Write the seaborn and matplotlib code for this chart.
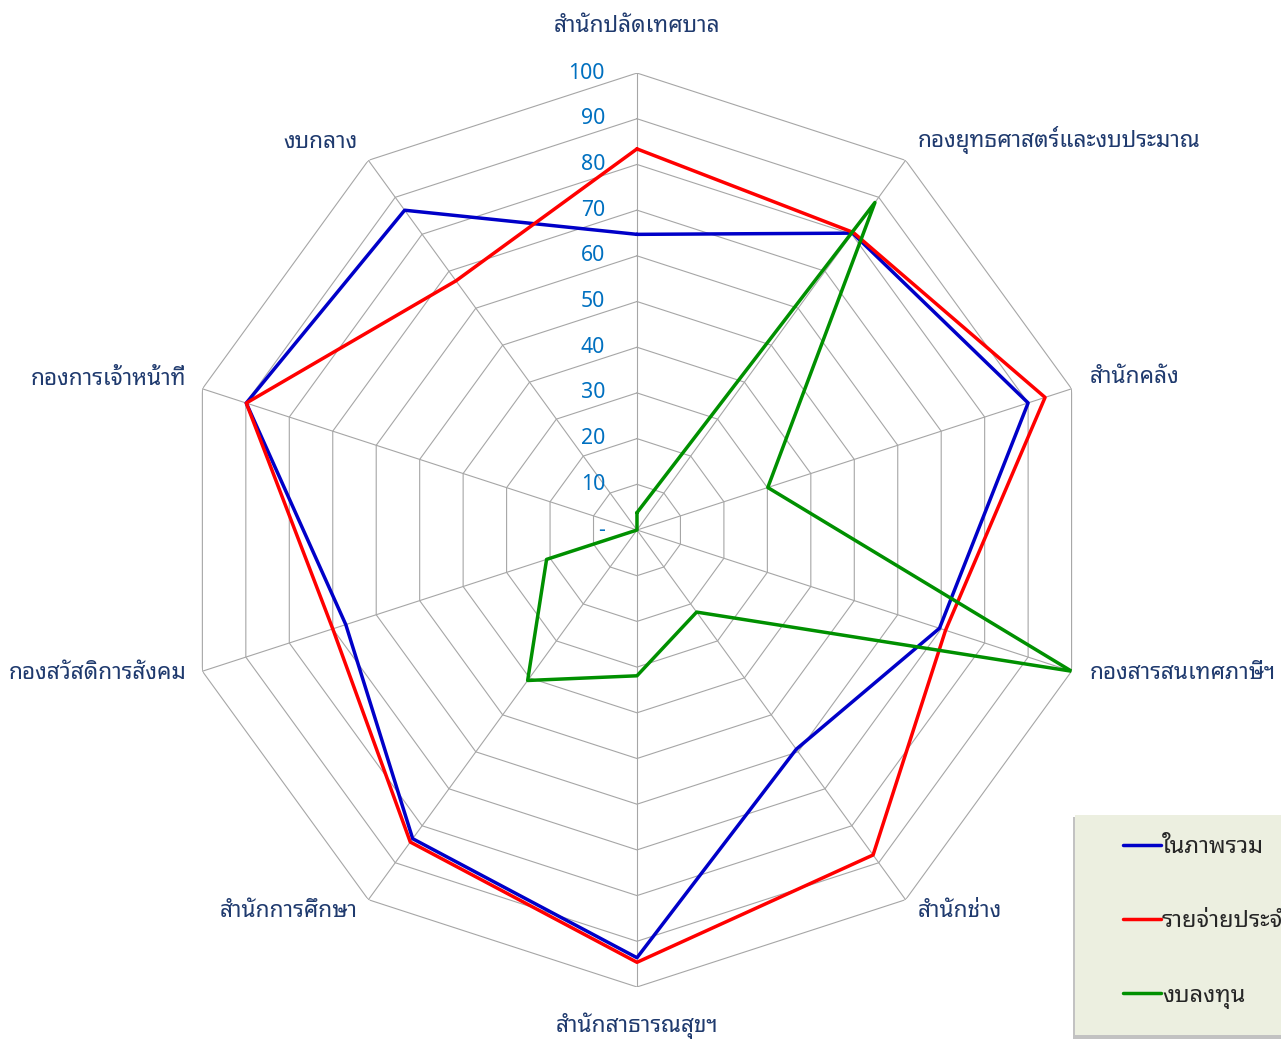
import numpy as np
import pandas as pd
import matplotlib
matplotlib.use("Agg")
import matplotlib.pyplot as plt
import seaborn as sns
from matplotlib import font_manager as fm
from matplotlib.patches import Rectangle

# ข้อมูล (ร้อยละ)
categories = ['สำนักปลัดเทศบาล', 'กองยุทธศาสตร์และงบประมาณ', 'สำนักคลัง',
              'กองสารสนเทศภาษีฯ', 'สำนักช่าง', 'สำนักสาธารณสุขฯ',
              'สำนักการศึกษา', 'กองสวัสดิการสังคม', 'กองการเจ้าหน้าที่', 'งบกลาง']
overall = [64.7, 80.3, 90.0, 69.6, 59.3, 93.6, 83.5, 67.0, 89.9, 86.5]
regular = [83.4, 80.5, 93.9, 71.0, 87.9, 94.6, 84.4, 70.0, 89.9, 67.4]
invest = [3.8, 88.6, 30.1, 100.0, 22.2, 31.9, 40.7, 20.8, 0.0, 0.0]
series_names = ['ในภาพรวม', 'รายจ่ายประจำ', 'งบลงทุน']
levels = [0, 10, 20, 30, 40, 50, 60, 70, 80, 90, 100]
level_labels = ['-', '10', '20', '30', '40', '50', '60', '70', '80', '90', '100']

# เลือกฟอนต์ไทยที่มีอยู่ในเครื่อง
available = {f.name for f in fm.fontManager.ttflist}
thai_font = 'DejaVu Sans'
for name in ['Noto Sans Thai Looped', 'Noto Sans Thai', 'Sarabun', 'IBM Plex Sans Thai']:
    if name in available:
        thai_font = name
        break

sns.set_style('white')
plt.rcParams['font.family'] = [thai_font, 'DejaVu Sans']

n = len(categories)
theta = np.arange(n) * 2 * np.pi / n
theta_closed = np.append(theta, 2 * np.pi)

rows = []
for name, vals in zip(series_names, [overall, regular, invest]):
    for t, v in zip(theta_closed, vals + vals[:1]):
        rows.append({'theta': t, 'value': v, 'series': name})
df = pd.DataFrame(rows)

fig = plt.figure(figsize=(12.81, 10.42), dpi=100)
ax = fig.add_axes([0.1405, 0.0528, 0.7135, 0.8771], projection='polar')
ax.set_theta_zero_location('N')
ax.set_theta_direction(-1)
ax.set_ylim(0, 100)
ax.grid(False)
ax.spines['polar'].set_visible(False)

# เส้นตารางแบบหลายเหลี่ยม
grid_col = '#A6A6A6'
for lv in levels[1:]:
    ax.plot(theta_closed, [lv] * (n + 1), color=grid_col, lw=0.8, zorder=1)
for t in theta:
    ax.plot([t, t], [0, 100], color=grid_col, lw=0.8, zorder=1)

palette = {'ในภาพรวม': '#0000C8', 'รายจ่ายประจำ': '#FF0000', 'งบลงทุน': '#009000'}
sns.lineplot(data=df, x='theta', y='value', hue='series', hue_order=series_names,
             palette=palette, sort=False, estimator=None, linewidth=2.5, ax=ax, zorder=3)
ax.set_xlabel('')
ax.set_ylabel('')
ax.set_xticks([])
ax.set_yticks([])

# ป้ายแกน
label_col = '#1F3A6E'
offsets = [(0, 47, 'center'), (12, 20, 'left'), (18, 11, 'left'), (18, -2, 'left'),
           (12, -12, 'left'), (0, -39, 'center'), (-11, -12, 'right'),
           (-16, -2, 'right'), (-16, 9, 'right'), (-11, 18, 'right')]
for t, lab, (dx, dy, ha) in zip(theta, categories, offsets):
    ax.annotate(lab, xy=(t, 100), xytext=(dx, dy), textcoords='offset pixels',
                ha=ha, va='center', fontsize=16.3, color=label_col, annotation_clip=False)

# ป้ายค่าบนแกนตั้ง
for lv, txt in zip(levels, level_labels):
    ax.annotate(txt, xy=(0, lv), xytext=(-32, 0), textcoords='offset pixels',
                ha='right', va='center', fontsize=15.3, color='#0070C0')

# กล่องคำอธิบาย
handles, labels = ax.get_legend_handles_labels()
if ax.get_legend() is not None:
    ax.get_legend().remove()
W, H = 1281, 1042
fig.patches.append(Rectangle((1073 / W, (H - 1039) / H), 230 / W, 222 / H,
                             transform=fig.transFigure, facecolor='#9A9A9A',
                             edgecolor='none', alpha=0.6, zorder=0))
fig.patches.append(Rectangle((1075 / W, (H - 1035) / H), 230 / W, 220 / H,
                             transform=fig.transFigure, facecolor='#ECEFE0',
                             edgecolor='none', zorder=1))
fig.legend(handles, labels, loc='upper left', bbox_to_anchor=(1123 / W, 1 - 835 / H),
           frameon=False, fontsize=17, handlelength=1.6, handletextpad=0.05,
           labelspacing=2.13, borderpad=0, borderaxespad=0)

fig.savefig('out.png', dpi=100)
